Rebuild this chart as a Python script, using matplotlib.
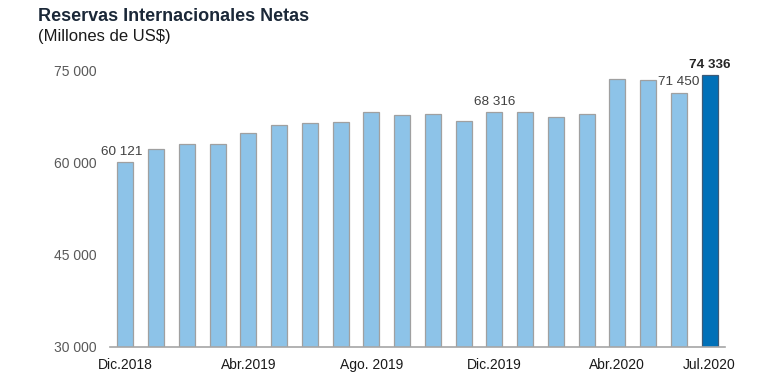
import matplotlib
matplotlib.use("Agg")
import matplotlib.pyplot as plt
import numpy as np

plt.rcParams['font.family'] = ['Liberation Sans', 'DejaVu Sans']

months = ["Dic.2018", "Ene.2019", "Feb.2019", "Mar.2019", "Abr.2019", "May.2019",
          "Jun.2019", "Jul.2019", "Ago. 2019", "Set.2019", "Oct.2019", "Nov.2019",
          "Dic.2019", "Ene.2020", "Feb.2020", "Mar.2020", "Abr.2020", "May.2020",
          "Jun.2020", "Jul.2020"]
values = [60121, 62290, 63110, 63000, 64800, 66220, 66430, 66710, 68190, 67740,
          67910, 66740, 68316, 68350, 67530, 67910, 73590, 73420, 71450, 74336]
tick_idx = [0, 4, 8, 12, 16, 19]
label_idx = [0, 12, 18, 19]
yticks = [30000, 45000, 60000, 75000]

def fmt(v):
    return f"{v:,}".replace(",", " ")

fig = plt.figure(figsize=(7.8, 3.78), dpi=100)
ax = fig.add_axes([110/780, (378-346.7)/378, 615/780, (346.7-64.6)/378])

x = np.arange(len(values))
colors = ["#8DC3E8"] * len(values)
edges = ["#A0A0A0"] * len(values)
colors[-1] = "#0070B8"
edges[-1] = "#3C5A78"
ax.bar(x, values, width=0.52, color=colors, edgecolor=edges, linewidth=0.9, zorder=2)

ax.set_xlim(-0.5, len(values) - 0.5)
ax.set_ylim(30000, 76000)
ax.set_yticks(yticks)
ax.set_yticklabels([fmt(v) for v in yticks], fontsize=10, color="#595959")
ax.set_xticks(tick_idx)
ax.set_xticklabels([months[i] for i in tick_idx], fontsize=10, color="#1a1a1a")
ax.tick_params(axis="y", length=0, pad=9.5)
ax.tick_params(axis="x", length=0, pad=8)
for s in ["top", "right", "left"]:
    ax.spines[s].set_visible(False)
ax.spines["bottom"].set_color("#A6A6A6")
ax.spines["bottom"].set_linewidth(1.2)

for i in label_idx:
    bold = (i == len(values) - 1)
    dx = -3 if i == 0 else 0
    ax.annotate(fmt(values[i]), (x[i], values[i]), xytext=(dx, 3),
                textcoords="offset points", ha="center", va="bottom",
                fontsize=9.7, color="#404040" if not bold else "#262626",
                fontweight="bold" if bold else "normal")

fig.text(38/780, 1 - 8/378, "Reservas Internacionales Netas", fontsize=13,
         fontweight="bold", color="#1B2838", ha="left", va="top")
fig.text(38/780, 1 - 29/378, "(Millones de US$)", fontsize=12,
         color="#1a1a1a", ha="left", va="top")

fig.savefig("out.png", dpi=100)
